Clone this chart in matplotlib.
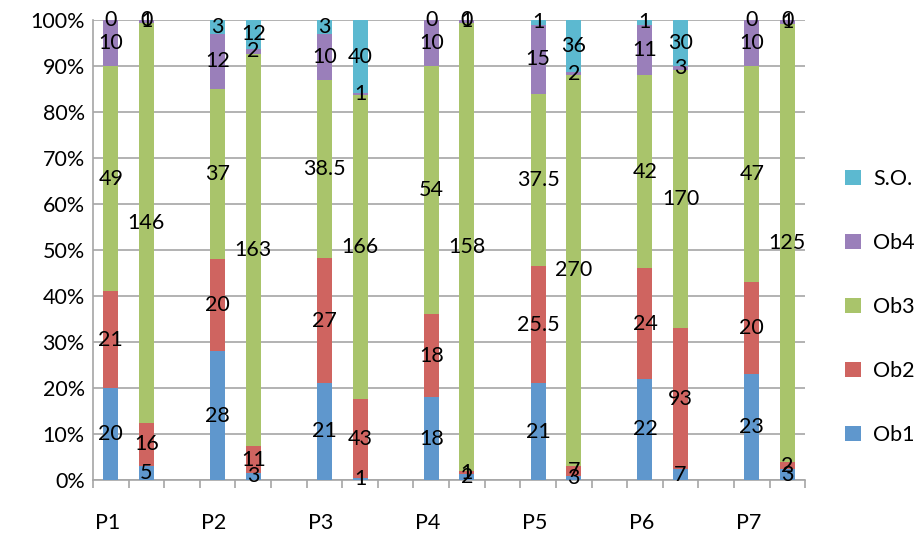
import numpy as np
import matplotlib
matplotlib.use("Agg")
import matplotlib.pyplot as plt

plt.rcParams['font.family'] = ['Lato', 'DejaVu Sans']

groups = ['P1', 'P2', 'P3', 'P4', 'P5', 'P6', 'P7']
series = ['Ob1', 'Ob2', 'Ob3', 'Ob4', 'S.O.']
# two bars per group: first and second
ob1 = [20, 5, 28, 3, 21, 1, 18, 2, 21, 3, 22, 7, 23, 3]
ob2 = [21, 16, 20, 11, 27, 43, 18, 1, 25.5, 7, 24, 93, 20, 2]
ob3 = [49, 146, 37, 163, 38.5, 166, 54, 158, 37.5, 270, 42, 170, 47, 125]
ob4 = [10, 1, 12, 2, 10, 1, 10, 1, 15, 2, 11, 3, 10, 1]
so = [0, 0, 3, 12, 3, 40, 0, 0, 1, 36, 1, 30, 0, 0]
colors = ['#5f97cd', '#cf6460', '#a9c46b', '#9a7fba', '#5cb9d0']

vals = np.array([ob1, ob2, ob3, ob4, so], dtype=float)
tot = vals.sum(axis=0)
pct = vals / tot * 100

x = []
for i in range(len(groups)):
    x += [3 * i, 3 * i + 1]
x = np.array(x)

fig = plt.figure(figsize=(9.15, 5.35), dpi=100)
ax = fig.add_axes([0.1016, 0.1028, 0.7784, 0.8598])

bottom = np.zeros(len(x))
for k in range(len(series)):
    ax.bar(x, pct[k], 0.42, bottom=bottom, color=colors[k], label=series[k], zorder=3)
    for j in range(len(x)):
        v = vals[k][j]
        txt = ('%g' % v)
        ax.text(x[j], bottom[j] + pct[k][j] / 2, txt, ha='center', va='center',
                fontsize=15.5, color='black', zorder=4)
    bottom += pct[k]

ax.set_xlim(-0.5, 19.5)
ax.set_ylim(0, 100)
ax.set_yticks(np.arange(0, 101, 10))
ax.set_yticklabels(['%d%%' % v for v in range(0, 101, 10)], fontsize=15.5)
ax.yaxis.grid(True, color='#a6a6a6', lw=1.2, zorder=0)
ax.set_xticks(x[::2] - 0.1)
ax.set_xticklabels(groups, fontsize=15.5)
ax.set_xticks(np.arange(-0.5, 20, 1), minor=True)
ax.tick_params(axis='x', which='major', length=0, pad=24)
ax.tick_params(axis='x', which='minor', length=6, color='#a6a6a6', width=1.2)
ax.tick_params(axis='y', length=0, pad=6)
for s in ['top', 'right']:
    ax.spines[s].set_visible(False)
for s in ['left', 'bottom']:
    ax.spines[s].set_color('#a6a6a6')
    ax.spines[s].set_linewidth(1.2)

h, l = ax.get_legend_handles_labels()
fig.legend(h[::-1], l[::-1], loc='center left', bbox_to_anchor=(0.924, 0.426),
           frameon=False, fontsize=15.5, handlelength=0.7, handleheight=0.7,
           handletextpad=0.6, labelspacing=2.05, borderpad=0, borderaxespad=0)

fig.savefig('out.png', dpi=100)
